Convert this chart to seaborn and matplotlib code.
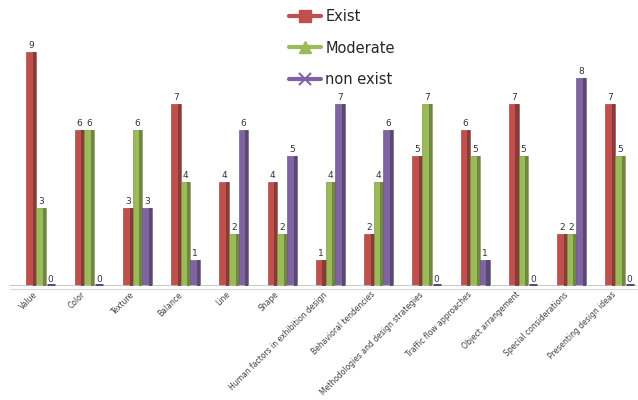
import matplotlib
matplotlib.use("Agg")
import matplotlib.pyplot as plt
from matplotlib.lines import Line2D
from matplotlib.patches import Rectangle
from matplotlib.transforms import ScaledTranslation
import matplotlib.colors as mcolors
import seaborn as sns
import pandas as pd

categories = [
    "Value", "Color", "Texture", "Balance", "Line", "Shape",
    "Human factors in exhibition design", "Behavioral tendencies",
    "Methodologies and design strategies", "Traffic flow approaches",
    "Object arrangement", "Special considerations", "Presenting design ideas",
]
series_names = ["Exist", "Moderate", "non exist"]
exist = [9, 6, 3, 7, 4, 4, 1, 2, 5, 6, 7, 2, 7]
moderate = [3, 6, 6, 4, 2, 2, 4, 4, 7, 5, 5, 2, 5]
non_exist = [0, 0, 3, 1, 6, 5, 7, 6, 0, 1, 0, 8, 0]

colors = ["#C0504D", "#9BBB59", "#8064A2"]

df = pd.DataFrame({
    "category": categories * 3,
    "series": sum([[s] * len(categories) for s in series_names], []),
    "value": exist + moderate + non_exist,
})

sns.set_style("white")
fig = plt.figure(figsize=(6.38, 4.0), dpi=100)
ax = fig.add_axes([0.015, 0.285, 0.983, 0.65])

sns.barplot(data=df, x="category", y="value", hue="series",
            hue_order=series_names, order=categories, palette=colors,
            width=0.6, saturation=1, ax=ax, legend=False, errorbar=None)

ax.set_xlim(-0.65, 12.35)
ax.set_ylim(0, 10)

# shaded side face and zero-height markers for each bar
for cont, col in zip(ax.containers, colors):
    dark = tuple(c * 0.72 for c in mcolors.to_rgb(col))
    for p in cont.patches:
        x, w, h = p.get_x(), p.get_width(), p.get_height()
        p.set_edgecolor(dark)
        p.set_linewidth(0.4)
        if h > 0:
            ax.add_patch(Rectangle((x + 0.68 * w, 0), 0.32 * w, h,
                                   facecolor=dark, edgecolor="none", zorder=3))
        else:
            ax.plot([x + 0.1 * w, x + 0.95 * w], [0.04, 0.04], color=dark,
                    lw=2.2, solid_capstyle="butt", zorder=3)
    ax.bar_label(cont, labels=[f"{v:g}" for v in cont.datavalues],
                 padding=1.5, fontsize=6.5, color="#333333")

# floor line
ax.axhline(0, color="#BFBFBF", lw=1.2, zorder=1)
ax.axhline(-0.12, color="#D9D9D9", lw=0.8, zorder=1, clip_on=False)

for s in ax.spines.values():
    s.set_visible(False)
ax.set_yticks([])
ax.set_xlabel("")
ax.set_ylabel("")
ax.tick_params(axis="x", length=0, pad=3)
ax.set_xticks(range(len(categories)))
ax.set_xticklabels(categories, rotation=45, ha="right",
                   rotation_mode="anchor", fontsize=5.5, color="#404040")
shift = ScaledTranslation(-8 / 100, 0, fig.dpi_scale_trans)
for lbl in ax.get_xticklabels():
    lbl.set_transform(lbl.get_transform() + shift)

handles = [
    Line2D([], [], color=colors[0], lw=3, marker="s", markersize=9),
    Line2D([], [], color=colors[1], lw=3, marker="^", markersize=9),
    Line2D([], [], color=colors[2], lw=3, marker="x", markersize=8, mew=1.5),
]
fig.legend(handles, series_names, loc="upper left",
           bbox_to_anchor=(283 / 638, 1 - 3 / 400), frameon=False,
           fontsize=10.5, labelspacing=1.15, handlelength=2.2,
           handletextpad=0.3, borderaxespad=0)

fig.savefig("out.png", dpi=100)
